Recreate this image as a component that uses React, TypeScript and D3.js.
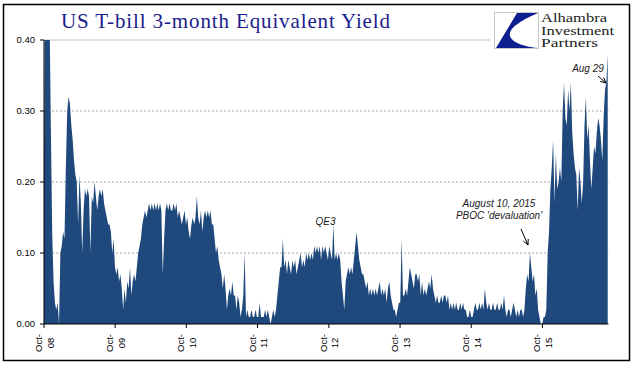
import React from 'react';
import * as d3 from 'd3';

// Weekly readings of the 3-month T-bill equivalent yield (%), starting Oct 1 2008
const seriesStart = new Date(2008, 9, 1);
const seriesEnd = new Date(2016, 8, 4);

const yields2008_09 = [
  0.24, 0.6, 0.8, 0.6, 0.45, 0.28, 0.13, 0.06, 0.03, 0.02, 0.03, 0.0, 0.1, 0.11, 0.13, 0.12,
  0.22, 0.3, 0.32, 0.31, 0.28, 0.26, 0.23, 0.21, 0.2, 0.14, 0.21, 0.17, 0.1, 0.16, 0.19, 0.18,
  0.19, 0.18, 0.1, 0.18, 0.17, 0.2, 0.18, 0.16, 0.18, 0.19, 0.18, 0.19, 0.17, 0.16, 0.15, 0.14,
  0.14, 0.13, 0.1, 0.12,
];
const yields2009_10 = [
  0.08, 0.07, 0.08, 0.06, 0.07, 0.05, 0.02, 0.05, 0.03, 0.06, 0.05, 0.08, 0.04, 0.06, 0.07, 0.06,
  0.08, 0.1, 0.11, 0.12, 0.14, 0.15, 0.16, 0.15, 0.16, 0.17, 0.16, 0.17, 0.16, 0.17, 0.16, 0.17,
  0.16, 0.17, 0.16, 0.07, 0.12, 0.16, 0.17, 0.16, 0.17, 0.16, 0.16, 0.17, 0.16, 0.17, 0.15, 0.16,
  0.15, 0.14, 0.15, 0.16, 0.14,
];
const yields2010_11 = [
  0.15, 0.13, 0.12, 0.14, 0.15, 0.14, 0.15, 0.18, 0.15, 0.14, 0.16, 0.13, 0.15, 0.16, 0.15, 0.16,
  0.15, 0.16, 0.14, 0.14, 0.12, 0.1, 0.11, 0.09, 0.08, 0.07, 0.05, 0.07, 0.05, 0.02, 0.04, 0.05,
  0.04, 0.06, 0.04, 0.04, 0.02, 0.04, 0.03, 0.01, 0.02, 0.04, 0.1, 0.01, 0.02, 0.01, 0.01, 0.02,
  0.01, 0.01, 0.02, 0.01,
];
const yields2011_12 = [
  0.01, 0.03, 0.01, 0.01, 0.01, 0.02, 0.01, 0.02, 0.01, 0.0, 0.01, 0.02, 0.01, 0.02, 0.04, 0.06,
  0.08, 0.08, 0.12, 0.08, 0.09, 0.07, 0.09, 0.08, 0.07, 0.09, 0.08, 0.09, 0.07, 0.08, 0.09, 0.1,
  0.08, 0.09, 0.08, 0.1, 0.09, 0.1, 0.09, 0.1, 0.09, 0.11, 0.1, 0.11, 0.1, 0.11, 0.09, 0.11,
  0.1, 0.11, 0.1, 0.09,
];
const yields2012_13 = [
  0.11, 0.1, 0.09, 0.14, 0.09, 0.1, 0.09, 0.1, 0.09, 0.06, 0.04, 0.02, 0.06, 0.07, 0.08, 0.07,
  0.08, 0.07, 0.09, 0.11, 0.13, 0.11, 0.09, 0.08, 0.07, 0.07, 0.06, 0.05, 0.06, 0.04, 0.05, 0.04,
  0.05, 0.04, 0.05, 0.04, 0.05, 0.06, 0.04, 0.05, 0.04, 0.05, 0.03, 0.05, 0.06, 0.04, 0.03, 0.02,
  0.02, 0.01, 0.02, 0.03,
];
const yields2013_14 = [
  0.03, 0.12, 0.04, 0.04, 0.05, 0.04, 0.06, 0.08, 0.07, 0.06, 0.05, 0.07, 0.07, 0.06, 0.07, 0.04,
  0.06, 0.04, 0.05, 0.04, 0.05, 0.06, 0.05, 0.07, 0.05, 0.04, 0.03, 0.04, 0.03, 0.03, 0.04, 0.03,
  0.04, 0.04, 0.03, 0.04, 0.02, 0.03, 0.02, 0.03, 0.02, 0.03, 0.02, 0.02, 0.03, 0.02, 0.03, 0.02,
  0.02, 0.01, 0.01, 0.02,
];
const yields2014_15 = [
  0.01, 0.01, 0.02, 0.03, 0.02, 0.02, 0.03, 0.02, 0.03, 0.02, 0.05, 0.03, 0.02, 0.03, 0.02, 0.02,
  0.03, 0.02, 0.02, 0.03, 0.02, 0.02, 0.03, 0.02, 0.04, 0.02, 0.01, 0.02, 0.02, 0.01, 0.02, 0.03,
  0.02, 0.01, 0.02, 0.01, 0.02, 0.02, 0.01, 0.02, 0.05, 0.07, 0.06, 0.1, 0.08, 0.06, 0.07, 0.04,
  0.05, 0.02, 0.01, 0.0,
];
const yields2015_16 = [
  0.0, 0.01, 0.01, 0.02, 0.1, 0.13, 0.19, 0.22, 0.26, 0.17, 0.24, 0.19, 0.2, 0.22, 0.2, 0.3,
  0.34, 0.29, 0.28, 0.33, 0.3, 0.34, 0.27, 0.24, 0.22, 0.21, 0.16, 0.22, 0.2, 0.17, 0.2, 0.28,
  0.32, 0.26, 0.28, 0.23, 0.19, 0.22, 0.25, 0.24, 0.27, 0.29, 0.28, 0.26, 0.23, 0.29, 0.33, 0.34,
  0.38,
];

const tickYears = ['08', '09', '10', '11', '12', '13', '14', '15'];
const yTicks = [0, 0.1, 0.2, 0.3, 0.4];
const title = 'US T-bill 3-month Equivalent Yield';
const logoLines = ['Alhambra', 'Investment', 'Partners'];
const logoWidths = [66, 73, 57];

type Pt = { date: Date; value: number };

export default function App() {
  const all = [
    ...yields2008_09, ...yields2009_10, ...yields2010_11, ...yields2011_12,
    ...yields2012_13, ...yields2013_14, ...yields2014_15, ...yields2015_16,
  ];
  const data: Pt[] = all.map((v, i) => ({ date: d3.timeDay.offset(seriesStart, 7 * i), value: v }));

  const left = 44, right = 608.5, top = 40, bottom = 324;
  const x = d3.scaleTime().domain([seriesStart, seriesEnd]).range([left, right]);
  const y = d3.scaleLinear().domain([0, 0.4]).range([bottom, top]);
  const areaGen = d3.area<Pt>().x(d => x(d.date)).y0(y(0)).y1(d => y(d.value));
  const ticks = tickYears.map(t => ({ label: t, date: new Date(2000 + +t, 9, 1) }));

  const arrowHead = (x1: number, y1: number, x2: number, y2: number) => {
    const a = Math.atan2(y2 - y1, x2 - x1);
    const L = 6;
    const p1 = [x2 - L * Math.cos(a - 0.45), y2 - L * Math.sin(a - 0.45)];
    const p2 = [x2 - L * Math.cos(a + 0.45), y2 - L * Math.sin(a + 0.45)];
    return `M${x1},${y1}L${x2},${y2}M${p1[0]},${p1[1]}L${x2},${y2}L${p2[0]},${p2[1]}`;
  };

  return (
    <svg width={641} height={375} style={{ position: 'absolute', left: 0, top: 0, background: '#fff' }}
      fontFamily="'Liberation Sans', Arial, sans-serif">
      <defs>
        <clipPath id="plotClip">
          <rect x={left} y={top} width={right - left + 1} height={bottom - top} />
        </clipPath>
      </defs>
      <rect x={0} y={0} width={641} height={375} fill="#fff" />
      <rect x={3.5} y={4.5} width={626} height={356} fill="none" stroke="#000" strokeWidth={1.5} />

      {/* gridlines */}
      {yTicks.filter(t => t > 0).map(t => (
        <line key={t} x1={left} x2={right} y1={y(t)} y2={y(t)}
          stroke={t === 0.4 ? '#bfbfbf' : '#a6a6a6'} strokeWidth={1}
          strokeDasharray={t === 0.4 ? undefined : '2,2'} />
      ))}

      {/* area */}
      <path d={areaGen(data) || ''} fill="#1f497d" clipPath="url(#plotClip)" />

      {/* axes */}
      <line x1={left} x2={left} y1={top} y2={bottom} stroke="#000" />
      <line x1={left} x2={right} y1={bottom} y2={bottom} stroke="#000" />
      {yTicks.map(t => (
        <g key={t}>
          <line x1={left - 4} x2={left} y1={y(t)} y2={y(t)} stroke="#000" />
          <text x={35} y={y(t)} dy="0.35em" textAnchor="end" fontSize={9.5} fill="#000">
            {t.toFixed(2)}
          </text>
        </g>
      ))}
      {ticks.map(t => (
        <g key={t.label}>
          <line x1={x(t.date)} x2={x(t.date)} y1={bottom} y2={bottom + 4} stroke="#000" />
          <text transform={`translate(${x(t.date)},343) rotate(-90)`} textAnchor="middle" fontSize={9.5} fill="#000">
            <tspan x={0} y={-2}>Oct-</tspan>
            <tspan x={0} y={9.5}>{t.label}</tspan>
          </text>
        </g>
      ))}

      {/* title */}
      <text x={61} y={28} fontFamily="'Liberation Serif', 'Times New Roman', serif" fontSize={21}
        fill="#1c1c8c" textLength={329} lengthAdjust="spacing">{title}</text>

      {/* logo */}
      <rect x={490} y={6} width={120} height={46} fill="#fff" />
      <rect x={494.5} y={12.5} width={44} height={36} fill="#fff" stroke="#c8c8c8" />
      <path d="M517,13 L538,13 C522,20 508,28 510,36 C512,43 526,47 538,48 L496,48 Z" fill="#0d1f8f" />
      {logoLines.map((l, i) => (
        <text key={l} x={541} y={22 + i * 12.5} fontFamily="'Liberation Serif', 'Times New Roman', serif"
          fontSize={12} fill="#222" textLength={logoWidths[i]} lengthAdjust="spacingAndGlyphs">{l}</text>
      ))}

      {/* annotations */}
      <g fontStyle="italic" fontSize={10} fill="#1a1a1a" textAnchor="middle">
        <text x={325.5} y={225}>QE3</text>
        <text x={499} y={207}>August 10, 2015</text>
        <text x={499} y={219}>PBOC 'devaluation'</text>
        <text x={588} y={72}>Aug 29</text>
      </g>
      <path d={arrowHead(521, 229, 528, 245)} fill="none" stroke="#000" strokeWidth={1} />
      <path d={arrowHead(598, 76, 606, 83)} fill="none" stroke="#000" strokeWidth={1} />
    </svg>
  );
}
